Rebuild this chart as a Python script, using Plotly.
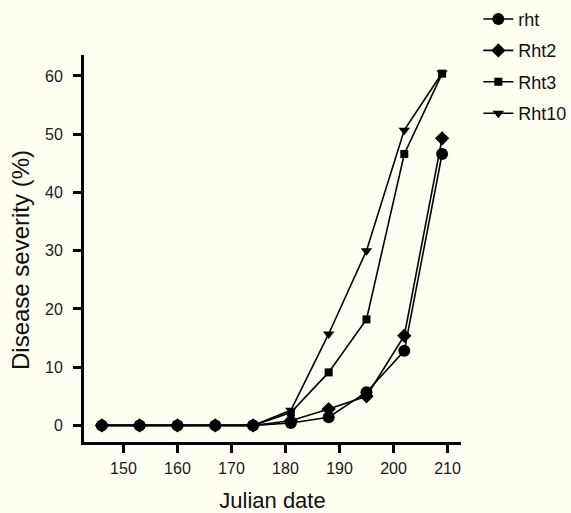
import plotly.graph_objects as go

# Julian dates of the assessments
julian_date = [146, 153, 160, 167, 174, 181, 188, 195, 202, 209]

# Disease severity (%) per genotype
rht = [0, 0, 0, 0, 0, 0.4, 1.4, 5.7, 12.8, 46.6]
rht2 = [0, 0, 0, 0, 0, 0.8, 2.8, 5.0, 15.4, 49.3]
rht3 = [0, 0, 0, 0, 0, 2.2, 9.1, 18.2, 46.6, 60.4]
rht10 = [0, 0, 0, 0, 0, 2.6, 15.7, 30.0, 50.7, 60.5]

series = [
    ("rht", rht, "circle", 12),
    ("Rht2", rht2, "diamond", 11),
    ("Rht3", rht3, "square", 8),
    ("Rht10", rht10, "triangle-down", 10),
]

bg = "#FEFDF2"
font_family = "Arial, Liberation Sans, sans-serif"

fig = go.Figure()
for name, vals, sym, size in series:
    fig.add_trace(go.Scatter(
        x=julian_date, y=vals, name=name, mode="lines+markers",
        legendgroup=name,
        line=dict(color="black", width=1.6),
        marker=dict(symbol=sym, size=size, color="black"),
    ))

axis_common = dict(
    showline=True, linecolor="black", linewidth=3,
    ticks="outside", ticklen=8, tickwidth=3, tickcolor="black",
    showgrid=False, zeroline=False,
    tickfont=dict(family=font_family, size=16, color="#1a1a1a"),
)

fig.update_layout(
    width=571, height=513,
    margin=dict(l=84, r=110, t=55, b=71, autoexpand=False),
    paper_bgcolor=bg, plot_bgcolor=bg,
    font=dict(family=font_family, color="#111"),
    xaxis=dict(range=[142.7, 212.5], tickvals=[150, 160, 170, 180, 190, 200, 210],
               ticklabelstandoff=2,
               title=dict(text="Julian date", standoff=17,
                          font=dict(family=font_family, size=22, color="#111")),
               **axis_common),
    yaxis=dict(range=[-2.85, 63.6], tickvals=[0, 10, 20, 30, 40, 50, 60],
               ticklabelstandoff=7, **axis_common),
    legend=dict(x=1.046, y=1.14, xanchor="left", yanchor="top",
                bgcolor="rgba(0,0,0,0)", tracegroupgap=5,
                font=dict(size=18, color="#111")),
)

# Vertical axis label, placed slightly below the plot's mid-height
fig.add_annotation(
    text="Disease severity (%)", textangle=-90, showarrow=False,
    xref="paper", yref="paper", x=-0.17, y=0.47,
    xanchor="center", yanchor="middle",
    font=dict(family=font_family, size=24, color="#111"),
)

fig.write_html("out.html")
